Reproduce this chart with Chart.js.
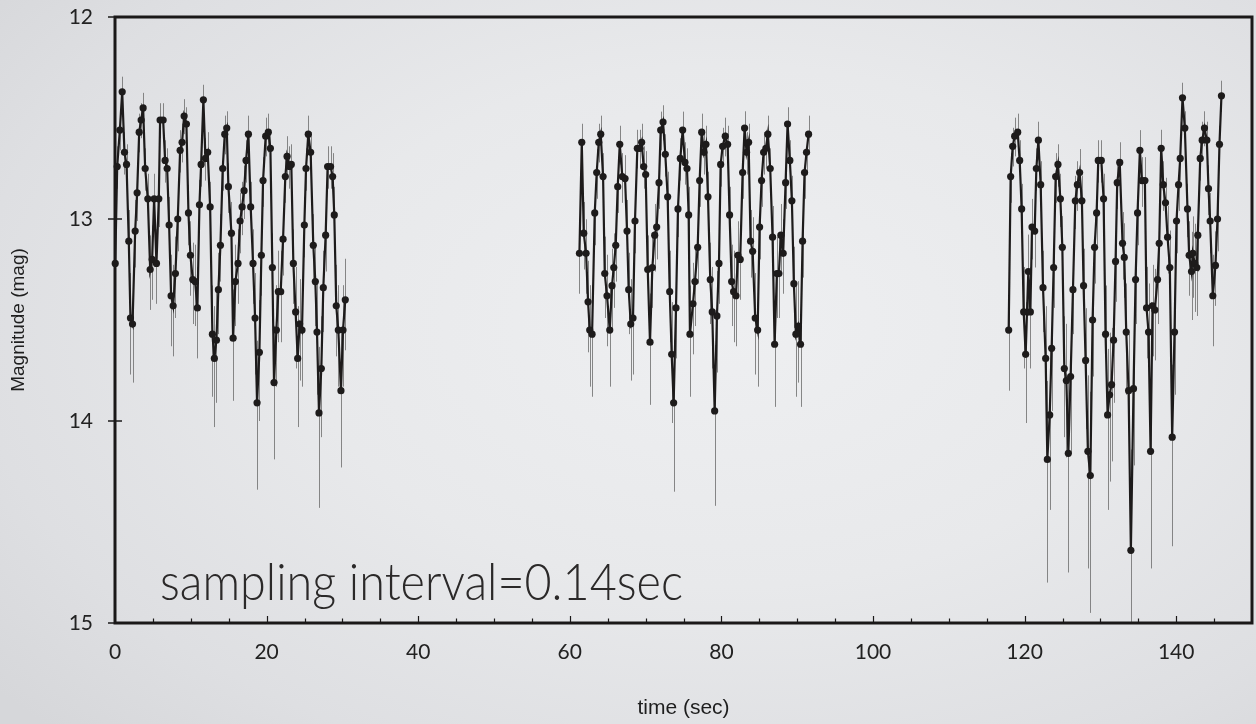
<!DOCTYPE html>
<html>
<head>
<meta charset="utf-8">
<script src="https://cdn.jsdelivr.net/npm/chart.js@4.4.1/dist/chart.umd.min.js"></script>
<style>
html,body{margin:0;padding:0;}
body{width:1256px;height:724px;overflow:hidden;
background:radial-gradient(ellipse 75% 80% at 58% 45%, #eeeff1 0%, #e8e9eb 45%, #dedfe2 80%, #d6d7da 100%);}
#wrap{position:relative;width:1256px;height:724px;}
canvas{position:absolute;left:0;top:0;}
</style>
</head>
<body>
<div id="wrap"><canvas id="c" width="1256" height="724"></canvas></div>
<script>
// ---- data (time in sec, magnitude in mag, downward error in mag) ----
const seg1Time = [0.03,0.29,0.64,0.95,1.25,1.52,1.82,2.04,2.31,2.66,
2.92,3.19,3.45,3.71,3.98,4.33,4.64,4.90,5.16,5.47,
5.78,5.95,6.35,6.61,6.88,7.14,7.40,7.67,7.97,8.28,
8.59,8.85,9.12,9.42,9.69,9.95,10.26,10.57,10.87,11.14,
11.36,11.66,11.93,12.23,12.55,12.85,13.11,13.38,13.64,13.91,
14.21,14.48,14.74,14.96,15.36,15.58,15.88,16.23,16.50,16.77,
17.03,17.29,17.60,17.90,18.21,18.48,18.74,19.05,19.31,19.53,
19.88,20.23,20.50,20.76,20.98,21.29,21.55,21.86,22.17,22.47,
22.70,23.00,23.26,23.53,23.83,24.10,24.36,24.67,24.98,25.20,
25.50,25.81,26.16,26.43,26.65,26.91,27.22,27.48,27.79,28.05,
28.44,28.71,28.93,29.19,29.46,29.81,30.08,30.38];
const seg1Mag = [13.22,12.74,12.56,12.37,12.67,12.73,13.11,13.49,13.52,13.06,
12.87,12.57,12.51,12.45,12.75,12.90,13.25,13.20,12.90,13.22,
12.90,12.51,12.51,12.71,12.75,13.03,13.38,13.43,13.27,13.00,
12.66,12.62,12.49,12.53,12.97,13.18,13.30,13.31,13.44,12.93,
12.73,12.41,12.70,12.67,12.94,13.57,13.69,13.60,13.35,13.13,
12.75,12.58,12.55,12.84,13.07,13.59,13.31,13.22,13.01,12.94,
12.86,12.71,12.58,12.94,13.22,13.49,13.91,13.66,13.18,12.81,
12.59,12.57,12.65,13.24,13.81,13.55,13.36,13.36,13.10,12.79,
12.69,12.74,12.73,13.22,13.46,13.69,13.52,13.55,13.03,12.75,
12.58,12.67,13.13,13.31,13.56,13.96,13.74,13.34,13.08,12.74,
12.74,12.79,12.98,13.43,13.55,13.85,13.55,13.40];
const seg1Err = [0.20,0.11,0.10,0.08,0.11,0.11,0.18,0.28,0.29,0.18,
0.14,0.10,0.09,0.08,0.11,0.14,0.20,0.20,0.14,0.20,
0.14,0.09,0.09,0.11,0.11,0.16,0.25,0.25,0.22,0.16,
0.11,0.10,0.09,0.09,0.16,0.20,0.22,0.22,0.25,0.14,
0.11,0.08,0.11,0.11,0.14,0.31,0.34,0.31,0.22,0.18,
0.11,0.10,0.09,0.13,0.18,0.31,0.22,0.20,0.16,0.14,
0.14,0.11,0.10,0.14,0.20,0.28,0.43,0.34,0.20,0.13,
0.10,0.10,0.10,0.20,0.38,0.28,0.25,0.25,0.18,0.13,
0.11,0.11,0.11,0.20,0.28,0.34,0.28,0.28,0.16,0.11,
0.10,0.11,0.18,0.22,0.31,0.47,0.34,0.22,0.18,0.11,
0.11,0.13,0.16,0.25,0.28,0.38,0.28,0.25];

const seg2Time = [61.27,61.58,61.84,62.15,62.41,62.63,62.94,63.29,63.55,63.82,
64.08,64.39,64.61,64.91,65.27,65.57,65.80,66.06,66.32,66.59,
66.93,67.29,67.55,67.77,68.04,68.34,68.60,68.91,69.26,69.48,
69.75,70.01,70.28,70.58,70.89,71.20,71.46,71.77,71.99,72.30,
72.60,72.91,73.18,73.44,73.70,74.01,74.27,74.58,74.89,75.19,
75.46,75.68,75.85,76.25,76.51,76.87,77.13,77.40,77.70,77.96,
78.23,78.53,78.79,79.11,79.41,79.68,79.90,80.16,80.51,80.82,
81.08,81.35,81.61,81.92,82.18,82.48,82.80,83.06,83.32,83.59,
83.85,84.12,84.46,84.78,85.04,85.30,85.57,85.87,86.13,86.44,
86.75,87.02,87.32,87.58,87.85,88.15,88.47,88.73,89.03,89.30,
89.56,89.83,90.13,90.44,90.71,90.97,91.23,91.50];
const seg2Mag = [13.17,12.62,13.07,13.17,13.41,13.55,13.57,12.97,12.77,12.62,
12.58,12.79,13.27,13.38,13.55,13.33,13.24,13.13,12.84,12.63,
12.79,12.80,13.06,13.35,13.52,13.49,13.01,12.65,12.65,12.62,
12.74,12.78,13.25,13.61,13.24,13.08,13.04,12.82,12.56,12.52,
12.68,12.89,13.36,13.67,13.91,13.44,12.95,12.70,12.56,12.72,
12.75,12.98,13.57,13.42,13.31,13.14,12.81,12.57,12.67,12.63,
12.89,13.30,13.46,13.95,13.48,13.22,12.73,12.64,12.59,12.63,
12.98,13.31,13.36,13.38,13.18,13.20,12.77,12.55,12.67,12.62,
13.11,13.16,13.49,13.55,13.04,12.81,12.67,12.65,12.58,12.75,
13.09,13.62,13.27,13.27,13.08,13.17,12.82,12.53,12.71,12.91,
13.32,13.57,13.53,13.62,13.11,12.77,12.67,12.58];
const seg2Err = [0.20,0.10,0.18,0.20,0.25,0.28,0.31,0.16,0.13,0.10,
0.10,0.13,0.22,0.25,0.28,0.22,0.20,0.18,0.13,0.10,
0.13,0.13,0.18,0.22,0.28,0.28,0.16,0.10,0.10,0.10,
0.11,0.13,0.20,0.31,0.20,0.18,0.16,0.13,0.10,0.09,
0.11,0.14,0.25,0.34,0.44,0.25,0.14,0.11,0.10,0.11,
0.11,0.16,0.31,0.25,0.22,0.18,0.13,0.10,0.11,0.10,
0.14,0.22,0.28,0.47,0.28,0.20,0.11,0.10,0.10,0.10,
0.16,0.22,0.25,0.25,0.20,0.20,0.13,0.09,0.11,0.10,
0.18,0.20,0.28,0.28,0.16,0.13,0.11,0.10,0.10,0.11,
0.18,0.31,0.22,0.22,0.18,0.20,0.13,0.09,0.11,0.14,
0.22,0.31,0.28,0.31,0.18,0.13,0.11,0.10];

const seg3Time = [117.90,118.16,118.43,118.69,119.09,119.35,119.61,119.88,120.14,120.49,
120.76,120.98,121.33,121.55,121.82,122.12,122.43,122.78,123.00,123.31,
123.57,123.83,124.10,124.40,124.72,124.98,125.24,125.51,125.77,126.07,
126.38,126.69,126.96,127.26,127.56,127.78,128.05,128.35,128.67,128.97,
129.23,129.50,129.72,130.12,130.42,130.68,130.95,131.21,131.47,131.74,
132.00,132.22,132.55,132.92,133.15,133.41,133.72,134.02,134.37,134.64,
134.90,135.21,135.47,135.87,136.09,136.35,136.62,136.88,137.18,137.54,
137.76,138.02,138.29,138.59,138.86,139.16,139.47,139.78,140.04,140.31,
140.53,140.83,141.14,141.49,141.71,142.02,142.19,142.45,142.72,142.85,
143.17,143.43,143.73,144.04,144.26,144.48,144.83,145.18,145.45,145.71,
145.97];
const seg3Mag = [13.55,12.79,12.64,12.59,12.57,12.71,12.95,13.46,13.67,13.26,
13.46,13.04,13.06,12.75,12.61,12.83,13.34,13.69,14.19,13.97,
13.64,13.24,12.79,12.73,12.90,13.14,13.74,13.80,14.16,13.78,
13.35,12.91,12.83,12.77,12.91,13.33,13.70,14.15,14.27,13.50,
13.14,12.97,12.71,12.71,12.90,13.57,13.97,13.87,13.82,13.60,
13.21,12.82,12.72,13.12,13.19,13.56,13.85,14.64,13.84,13.30,
12.97,12.66,12.81,12.81,13.44,13.56,14.15,13.43,13.45,13.30,
13.12,12.65,12.83,12.92,13.09,13.24,14.08,13.56,13.01,12.83,
12.70,12.40,12.55,12.95,13.18,13.26,13.17,13.22,13.24,13.08,
12.70,12.61,12.55,12.61,12.85,13.01,13.38,13.23,13.00,12.63,
12.39];
const seg3Err = [0.30,0.13,0.10,0.10,0.10,0.11,0.14,0.28,0.34,0.22,
0.28,0.16,0.18,0.11,0.10,0.13,0.22,0.34,0.61,0.47,
0.31,0.20,0.13,0.11,0.14,0.18,0.34,0.38,0.59,0.38,
0.22,0.14,0.13,0.13,0.14,0.22,0.34,0.58,0.68,0.28,
0.18,0.16,0.11,0.11,0.14,0.31,0.47,0.43,0.38,0.31,
0.20,0.13,0.11,0.18,0.20,0.31,0.38,0.95,0.38,0.22,
0.16,0.11,0.13,0.13,0.25,0.31,0.58,0.25,0.25,0.22,
0.18,0.10,0.13,0.14,0.18,0.22,0.54,0.31,0.16,0.13,
0.11,0.08,0.09,0.14,0.20,0.24,0.22,0.24,0.24,0.18,
0.11,0.10,0.09,0.10,0.13,0.16,0.25,0.20,0.16,0.10,
0.08];

const xTickLabels = [0,20,40,60,80,100,120,140];
const yTickLabels = [12,13,14,15];
const xMinorStep = 5;
const noteText = 'sampling interval=0.14sec';

const segments = [
  {t:seg1Time, m:seg1Mag, e:seg1Err},
  {t:seg2Time, m:seg2Mag, e:seg2Err},
  {t:seg3Time, m:seg3Mag, e:seg3Err}
];

const ink = '#1d1b1b';
const tickFont = {family:"Lato, 'Open Sans', sans-serif", size:21, weight:'400'};

function makeDataset(s){
  return {
    data: s.t.map((t,i)=>({x:t, y:s.m[i]})),
    borderColor: ink, backgroundColor: ink,
    borderWidth: 2.2, pointRadius: 3.6, pointBorderWidth: 0,
    pointBackgroundColor: ink, tension: 0, clip: 10
  };
}

const decor = {
  id:'decor',
  beforeDatasetsDraw(chart){
    const {ctx, chartArea:a, scales:{x, y}} = chart;
    // error bars
    ctx.save();
    ctx.beginPath(); ctx.rect(a.left, a.top, a.right-a.left, a.bottom-a.top); ctx.clip();
    ctx.strokeStyle = 'rgba(115,115,115,0.85)';
    ctx.lineWidth = 1;
    segments.forEach(s=>{
      s.t.forEach((t,i)=>{
        const m = s.m[i], dn = s.e[i];
        const f = 1 - Math.pow(10, -0.4*dn);
        const up = 2.5*Math.log10(1+f);
        const px = Math.round(x.getPixelForValue(t)) + 0.5;
        ctx.beginPath();
        ctx.moveTo(px, y.getPixelForValue(m-up));
        ctx.lineTo(px, y.getPixelForValue(m+dn));
        ctx.stroke();
      });
    });
    ctx.restore();
    // frame
    ctx.save();
    ctx.strokeStyle = '#1a1818';
    ctx.lineWidth = 3;
    ctx.strokeRect(a.left, a.top, a.right-a.left, a.bottom-a.top);
    // y ticks (crossing)
    ctx.lineWidth = 1.5;
    yTickLabels.forEach(v=>{
      const py = y.getPixelForValue(v);
      ctx.beginPath(); ctx.moveTo(a.left-7, py); ctx.lineTo(a.left+ (v===12||v===15?0:7), py); ctx.stroke();
    });
    // x ticks (inward)
    ctx.lineWidth = 1.2;
    for (let v = xMinorStep; v < x.max; v += xMinorStep){
      const px = Math.round(x.getPixelForValue(v)) + 0.5;
      const len = (v % 20 === 0) ? 7 : 4.5;
      ctx.beginPath(); ctx.moveTo(px, a.bottom); ctx.lineTo(px, a.bottom-len); ctx.stroke();
    }
    ctx.restore();
  },
  afterDraw(chart){
    const {ctx} = chart;
    ctx.save();
    ctx.font = "300 52px Lato, 'Open Sans', sans-serif";
    ctx.fillStyle = '#2b2929';
    ctx.textBaseline = 'alphabetic';
    const w = ctx.measureText(noteText).width;
    const target = 523;
    ctx.translate(160, 600);
    ctx.scale(target/w, 1);
    ctx.fillText(noteText, 0, 0);
    ctx.restore();
  }
};

new Chart(document.getElementById('c'), {
  type: 'line',
  data: { datasets: segments.map(makeDataset) },
  options: {
    responsive: false, animation: false,
    layout: { padding: { top: 17, right: 4, left: 0, bottom: 0 } },
    plugins: { legend: {display:false}, tooltip: {enabled:false} },
    scales: {
      x: {
        type: 'linear', min: 0, max: 150,
        afterBuildTicks: s => { s.ticks = xTickLabels.map(v=>({value:v})); },
        afterFit: s => { s.height = 101; s.paddingLeft = 0; s.paddingRight = 0; },
        grid: { display:false, drawTicks:false },
        border: { display:false },
        ticks: { color:'#222', font: tickFont, padding: 17, maxRotation:0, autoSkip:false },
        title: { display:true, text:'time (sec)', color:'#1e1e1e',
                 font:{family:"'Liberation Sans', Arial, sans-serif", size:21}, padding:{top:0,bottom:3} }
      },
      y: {
        type: 'linear', reverse: true, min: 12, max: 15,
        afterBuildTicks: s => { s.ticks = yTickLabels.map(v=>({value:v})); },
        afterFit: s => { s.width = 115; s.paddingTop = 0; s.paddingBottom = 0; },
        grid: { display:false, drawTicks:true, tickLength:7 },
        border: { display:false },
        ticks: { color:'#222', font: tickFont, padding: 15 },
        title: { display:true, text:'Magnitude (mag)', color:'#1e1e1e',
                 font:{family:"'Liberation Sans', Arial, sans-serif", size:19}, padding:{top:7,bottom:0} }
      }
    }
  },
  plugins: [decor]
});
</script>
</body>
</html>
